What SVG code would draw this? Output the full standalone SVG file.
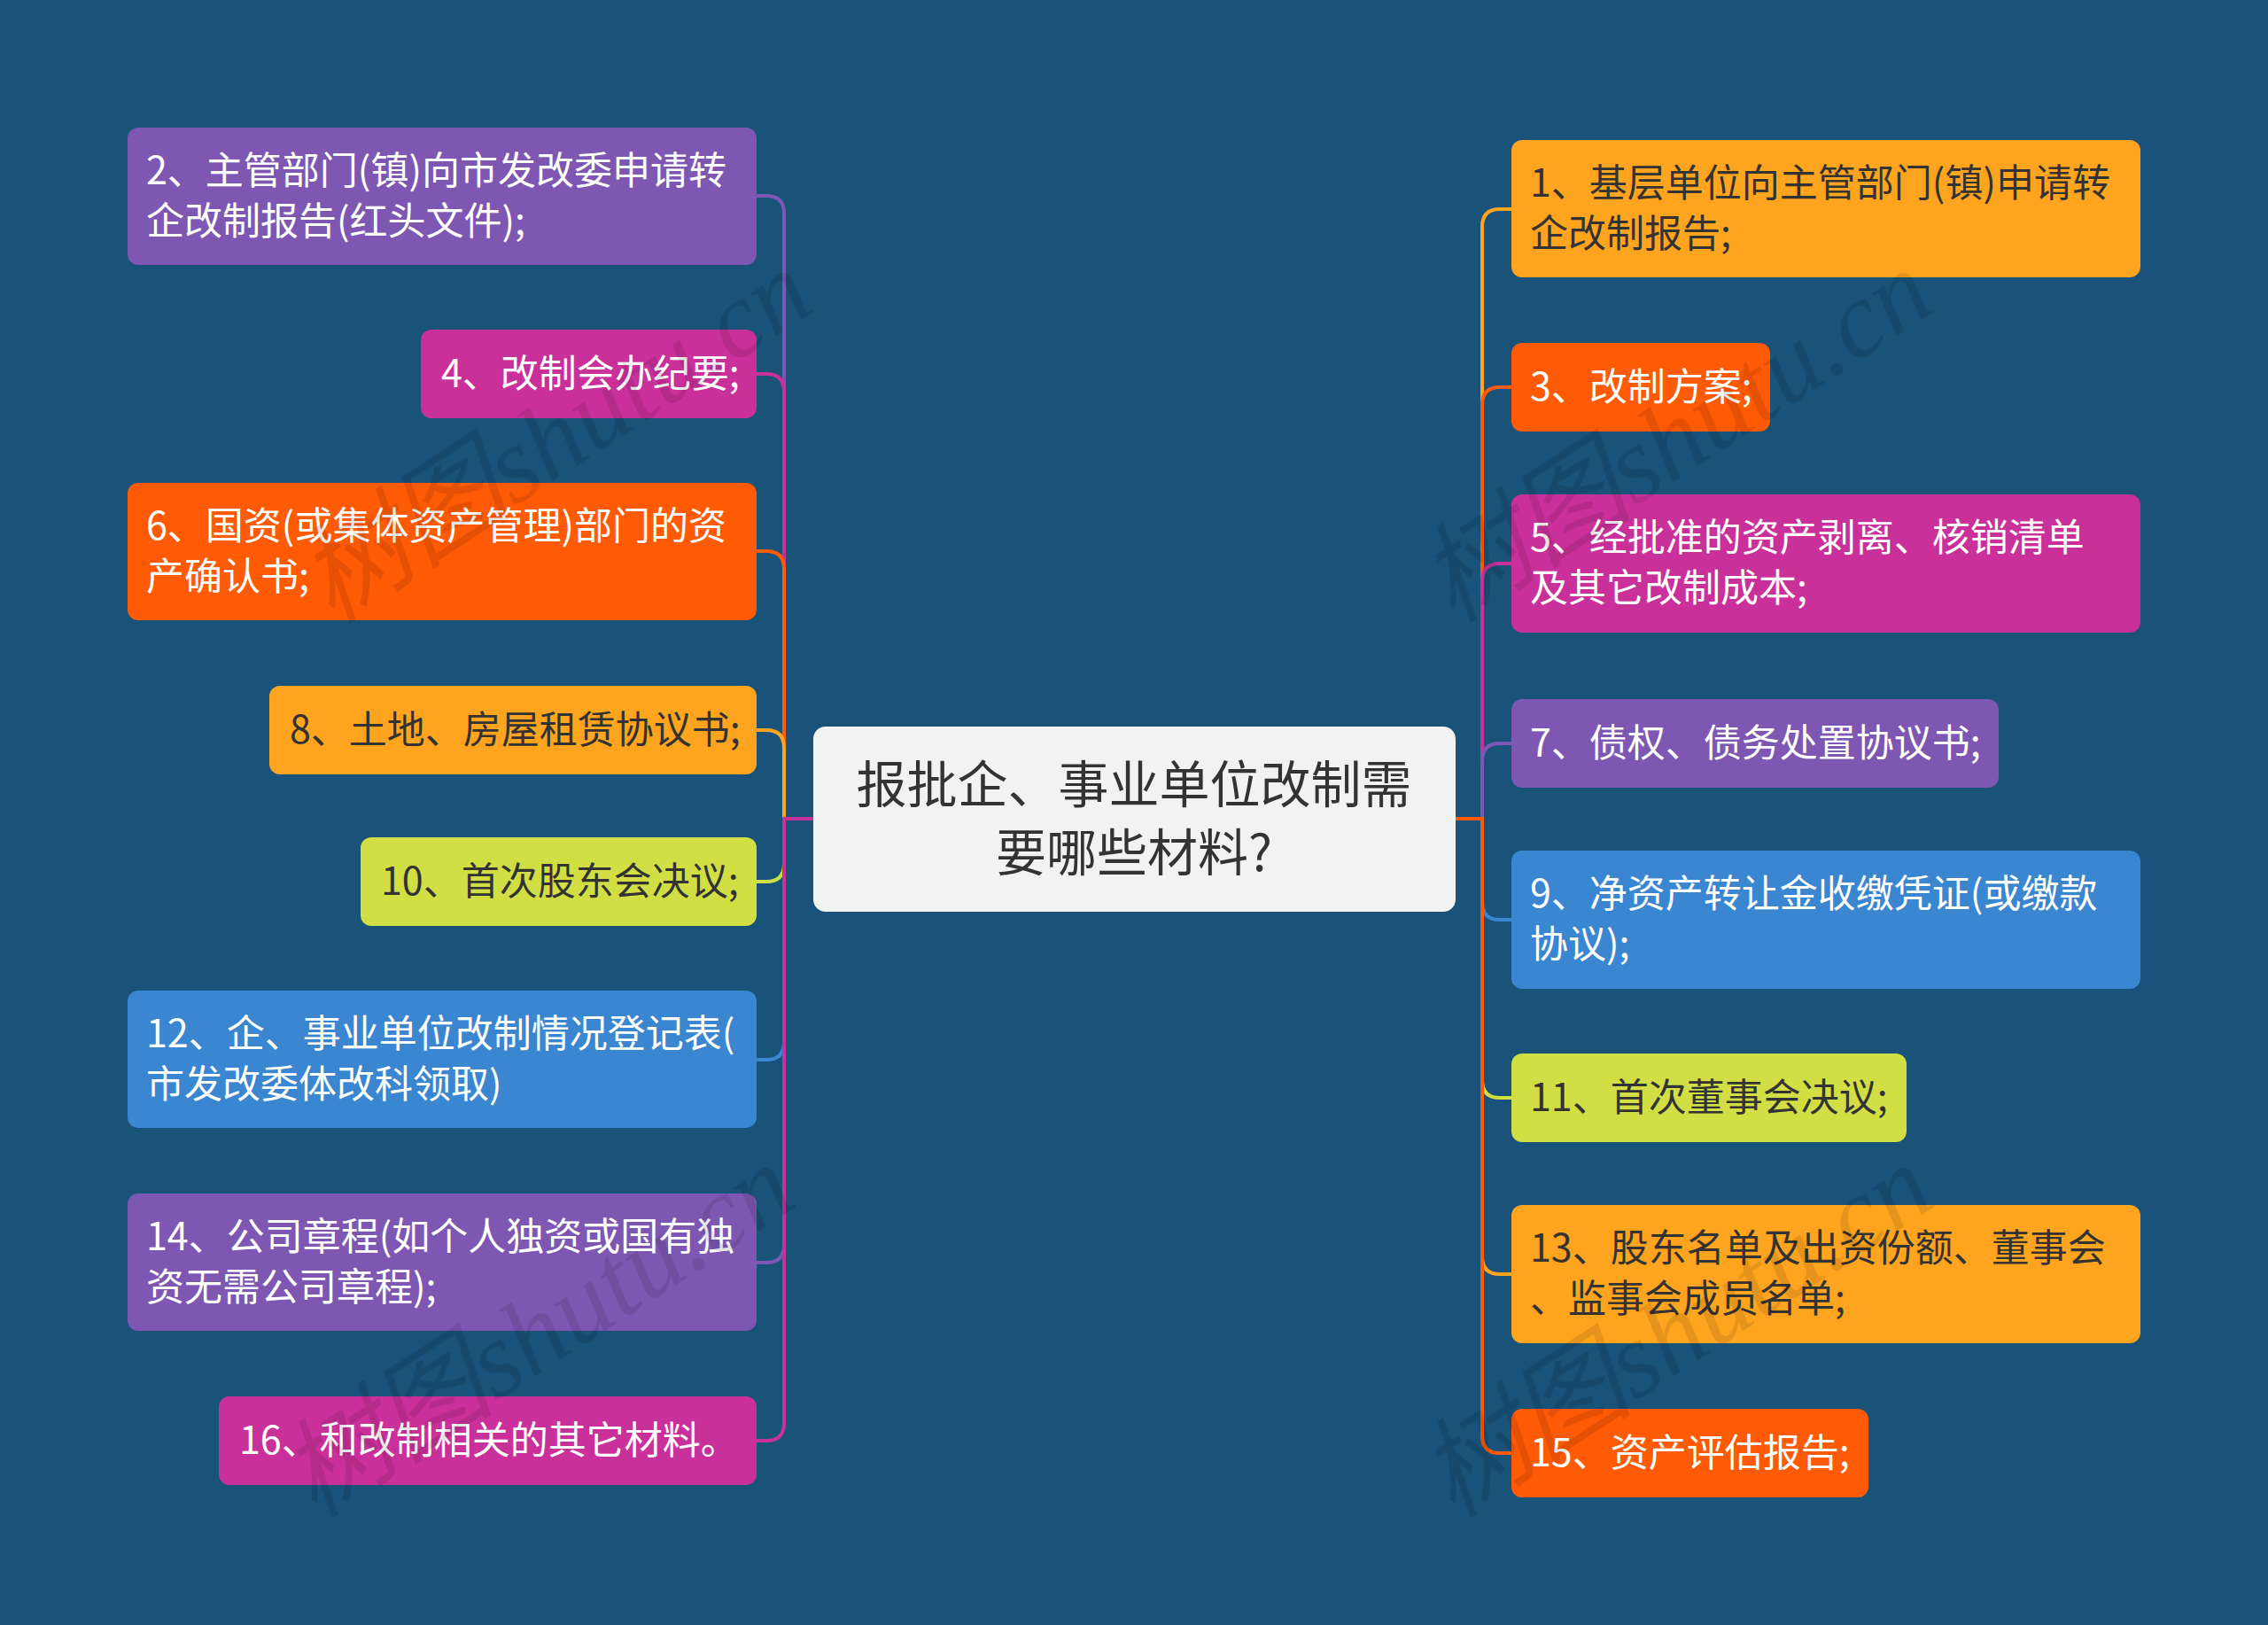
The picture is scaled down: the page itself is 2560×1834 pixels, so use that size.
<svg xmlns="http://www.w3.org/2000/svg" width="2560" height="1834" viewBox="0 0 2560 1834">
<style>
.t{font-family:"Noto Sans CJK SC","Liberation Sans",sans-serif;font-size:43px;}
.w{fill:#ffffff;}
.d{fill:#333333;}
.c{font-family:"Noto Sans CJK SC","Liberation Sans",sans-serif;font-size:57px;fill:#333333;text-anchor:middle;}
.ln{fill:none;stroke-width:4;stroke-linecap:round;stroke-linejoin:round;}
.wm{font-family:"Liberation Serif","Noto Sans CJK SC",serif;font-size:122px;font-style:italic;fill:#000000;fill-opacity:0.1;}
.purple{fill:#7E57B3;}.magenta{fill:#C9309A;}.red{fill:#FF5A05;}.amber{fill:#FFA41E;}.lime{fill:#D2DF44;}.blue{fill:#3A86D0;}
</style>
<rect width="2560" height="1834" fill="#19537A"/>
<g id="connectors">
<path class="ln" stroke="#7E57B3" d="M854,221 H865 Q885,221 885,241 V924 H918"/>
<path class="ln" stroke="#C9309A" d="M854,422 H865 Q885,422 885,442 V924 H918"/>
<path class="ln" stroke="#FF5A05" d="M854,622 H865 Q885,622 885,642 V924 H918"/>
<path class="ln" stroke="#FFA41E" d="M854,824 H865 Q885,824 885,844 V924 H918"/>
<path class="ln" stroke="#D2DF44" d="M854,995 H865 Q885,995 885,975 V924 H918"/>
<path class="ln" stroke="#3A86D0" d="M854,1196 H865 Q885,1196 885,1176 V924 H918"/>
<path class="ln" stroke="#7E57B3" d="M854,1425 H865 Q885,1425 885,1405 V924 H918"/>
<path class="ln" stroke="#C9309A" d="M854,1626 H865 Q885,1626 885,1606 V924 H918"/>
<path class="ln" stroke="#FFA41E" d="M1706,236 H1693 Q1673,236 1673,256 V924 H1643"/>
<path class="ln" stroke="#FF5A05" d="M1706,437 H1693 Q1673,437 1673,457 V924 H1643"/>
<path class="ln" stroke="#C9309A" d="M1706,636 H1693 Q1673,636 1673,656 V924 H1643"/>
<path class="ln" stroke="#7E57B3" d="M1706,839 H1693 Q1673,839 1673,859 V924 H1643"/>
<path class="ln" stroke="#3A86D0" d="M1706,1038 H1693 Q1673,1038 1673,1018 V924 H1643"/>
<path class="ln" stroke="#D2DF44" d="M1706,1239 H1693 Q1673,1239 1673,1219 V924 H1643"/>
<path class="ln" stroke="#FFA41E" d="M1706,1438 H1693 Q1673,1438 1673,1418 V924 H1643"/>
<path class="ln" stroke="#FF5A05" d="M1706,1640 H1693 Q1673,1640 1673,1620 V924 H1643"/>
</g>
<g id="center">
<rect x="918" y="820" width="725" height="209" rx="14" fill="#F2F2F2"/>
<text class="c" x="1280" y="906">报批企、事业单位改制需</text>
<text class="c" x="1280" y="983">要哪些材料?</text>
</g>
<g id="n2"><rect class="purple" x="144" y="144" width="710" height="155" rx="12"/>
<text class="t w" x="165" y="208">2、主管部门(镇)向市发改委申请转</text><text class="t w" x="165" y="265">企改制报告(红头文件);</text></g>
<g id="n4"><rect class="magenta" x="475" y="372" width="379" height="100" rx="12"/>
<text class="t w" x="498" y="437">4、改制会办纪要;</text></g>
<g id="n6"><rect class="red" x="144" y="545" width="710" height="155" rx="12"/>
<text class="t w" x="165" y="609">6、国资(或集体资产管理)部门的资</text><text class="t w" x="165" y="666">产确认书;</text></g>
<g id="n8"><rect class="amber" x="304" y="774" width="550" height="100" rx="12"/>
<text class="t d" x="327" y="839">8、土地、房屋租赁协议书;</text></g>
<g id="n10"><rect class="lime" x="407" y="945" width="447" height="100" rx="12"/>
<text class="t d" x="430" y="1010">10、首次股东会决议;</text></g>
<g id="n12"><rect class="blue" x="144" y="1118" width="710" height="155" rx="12"/>
<text class="t w" x="165" y="1182">12、企、事业单位改制情况登记表(</text><text class="t w" x="165" y="1239">市发改委体改科领取)</text></g>
<g id="n14"><rect class="purple" x="144" y="1347" width="710" height="155" rx="12"/>
<text class="t w" x="165" y="1411">14、公司章程(如个人独资或国有独</text><text class="t w" x="165" y="1468">资无需公司章程);</text></g>
<g id="n16"><rect class="magenta" x="247" y="1576" width="607" height="100" rx="12"/>
<text class="t w" x="270" y="1641">16、和改制相关的其它材料。</text></g>
<g id="n1"><rect class="amber" x="1706" y="158" width="710" height="155" rx="12"/>
<text class="t d" x="1727" y="222">1、基层单位向主管部门(镇)申请转</text><text class="t d" x="1727" y="279">企改制报告;</text></g>
<g id="n3"><rect class="red" x="1706" y="387" width="292" height="100" rx="12"/>
<text class="t w" x="1727" y="452">3、改制方案;</text></g>
<g id="n5"><rect class="magenta" x="1706" y="558" width="710" height="156" rx="12"/>
<text class="t w" x="1727" y="622">5、经批准的资产剥离、核销清单</text><text class="t w" x="1727" y="679">及其它改制成本;</text></g>
<g id="n7"><rect class="purple" x="1706" y="789" width="550" height="100" rx="12"/>
<text class="t w" x="1727" y="854">7、债权、债务处置协议书;</text></g>
<g id="n9"><rect class="blue" x="1706" y="960" width="710" height="156" rx="12"/>
<text class="t w" x="1727" y="1024">9、净资产转让金收缴凭证(或缴款</text><text class="t w" x="1727" y="1081">协议);</text></g>
<g id="n11"><rect class="lime" x="1706" y="1189" width="446" height="100" rx="12"/>
<text class="t d" x="1727" y="1254">11、首次董事会决议;</text></g>
<g id="n13"><rect class="amber" x="1706" y="1360" width="710" height="156" rx="12"/>
<text class="t d" x="1727" y="1424">13、股东名单及出资份额、董事会</text><text class="t d" x="1727" y="1481">、监事会成员名单;</text></g>
<g id="n15"><rect class="red" x="1706" y="1590" width="403" height="100" rx="12"/>
<text class="t w" x="1727" y="1655">15、资产评估报告;</text></g>
<g id="watermarks">
<text class="wm" transform="translate(375,705) rotate(-33)">树图shutu.cn</text>
<text class="wm" transform="translate(355,1715) rotate(-33)">树图shutu.cn</text>
<text class="wm" transform="translate(1640,705) rotate(-33)">树图shutu.cn</text>
<text class="wm" transform="translate(1640,1715) rotate(-33)">树图shutu.cn</text>
</g>
</svg>
